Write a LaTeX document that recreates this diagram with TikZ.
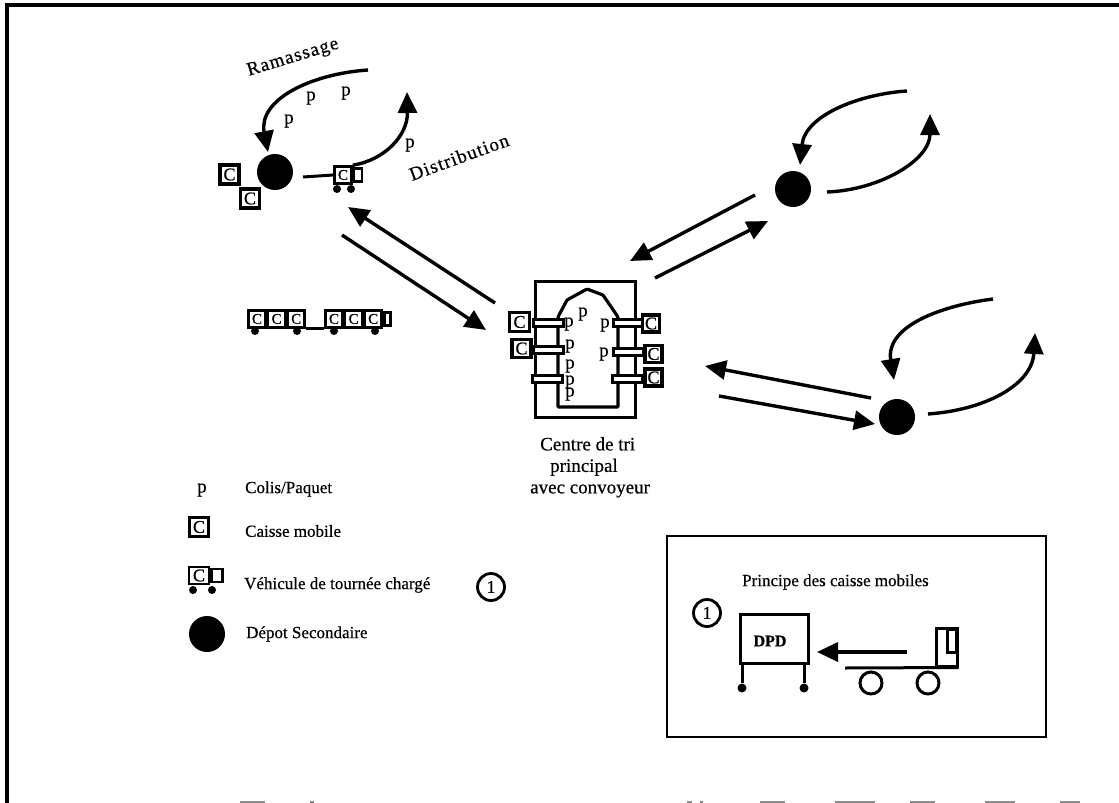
\documentclass[tikz,border=0pt]{standalone}
\usepackage{fontspec}
\setmainfont[FakeBold=0.5]{Liberation Serif}
\usetikzlibrary{arrows.meta, positioning}

\begin{document}
\begin{tikzpicture}[
  x=1pt, y=-1pt,
  depot/.style={circle, fill=black, inner sep=0pt, minimum size=36pt},
  cbox/.style={draw, line width=3.2pt, fill=white, inner sep=0pt, minimum width=19pt, minimum height=19pt, font=\fontsize{18}{18}\selectfont},
  tinybox/.style={draw, line width=2.6pt, fill=white, inner sep=0pt, minimum width=17pt, minimum height=17pt, font=\fontsize{15}{15}\selectfont},
  cabbox/.style={draw, line width=2.6pt, fill=white, inner sep=0pt, minimum width=8pt, minimum height=13pt},
  beltbox/.style={draw, line width=3pt, fill=white, inner sep=0pt, minimum width=30pt, minimum height=7pt},
  wheeldot/.style={circle, fill=black, inner sep=0pt, minimum size=8pt},
  ptext/.style={inner sep=0pt, font=\fontsize{19}{19}\selectfont},
  legtext/.style={anchor=west, inner sep=0pt, font=\fontsize{17}{17}\selectfont},
  numcircle/.style={circle, draw, line width=2.8pt, inner sep=0pt, minimum size=27pt, font=\fontsize{18}{18}\selectfont},
  slanttext/.style={inner sep=0pt, font=\fontsize{19}{19}\selectfont\addfontfeature{LetterSpace=6}},
  flowline/.style={-{Triangle[length=21pt,width=19pt]}, line width=3.4pt},
  thinline/.style={line width=3pt}
]
\useasboundingbox (0,0) rectangle (1119,803);
\draw[line width=3.4pt] (1119,5) -- (7,5) -- (7,803);
\foreach \xa/\xb in {240/265, 310/314, 687/692, 700/703, 760/785, 835/875, 910/935, 985/1015, 1060/1080}
  \fill[black!45] (\xa,801) rectangle (\xb,803);

\node[depot] (depa) at (275,172) {};
\node[depot] (depb) at (793,189) {};
\node[depot] (depc) at (897,417) {};

\node[cbox] (ca) at (229.5,174.5) {C};
\node[cbox] (cb) at (250,198.5) {C};
\node[wheeldot] (vanwa) at (337,189) {};
\node[wheeldot] (vanwb) at (351,189) {};
\node[tinybox] (vana) at (343,175) {C};
\node[cabbox, right=0pt of vana] (vanb) {};

\node[rotate=17, slanttext] (ram) at (293,58) {Ramassage};
\node[rotate=20, slanttext] (dist) at (459,157) {Distribution};
\node[ptext] (pa) at (289,121) {p};
\node[ptext] (pb) at (311,98) {p};
\node[ptext] (pc) at (346,93) {p};
\node[ptext] (pd) at (410,145) {p};

\coordinate (ramA) at (368,70);
\coordinate (ramB) at (268,152);
\coordinate (disA) at (303,177);
\coordinate (disB) at (407,92);
\draw[flowline] (ramA) .. controls (310,74) and (258,100) .. (ramB);
\draw[thinline] (disA) -- (vana.west);
\draw[flowline] (vana.north east) .. controls (385,160) and (408,135) .. (disB);

\coordinate (topA) at (907,91);
\coordinate (topB) at (800,165);
\coordinate (topC) at (827,192);
\coordinate (topD) at (930,114);
\draw[flowline] (topA) .. controls (860,94) and (805,115) .. (topB);
\draw[flowline] (topC) .. controls (880,190) and (930,160) .. (topD);

\coordinate (lowA) at (993,299);
\coordinate (lowB) at (894,380);
\coordinate (lowC) at (928,414);
\coordinate (lowD) at (1035,333);
\draw[flowline] (lowA) .. controls (945,305) and (885,325) .. (lowB);
\draw[flowline] (lowC) .. controls (985,410) and (1032,385) .. (lowD);

\coordinate (arrA) at (495,303);
\coordinate (arrB) at (348,207);
\coordinate (arrC) at (342,235);
\coordinate (arrD) at (486,330);
\draw[flowline] (arrA) -- (arrB);
\draw[flowline] (arrC) -- (arrD);
\coordinate (arrE) at (755,195);
\coordinate (arrF) at (630,261);
\coordinate (arrG) at (655,278);
\coordinate (arrH) at (768,221);
\draw[flowline] (arrE) -- (arrF);
\draw[flowline] (arrG) -- (arrH);
\coordinate (arrI) at (871,398);
\coordinate (arrJ) at (705,366);
\coordinate (arrK) at (719,396);
\coordinate (arrL) at (875,424);
\draw[flowline] (arrI) -- (arrJ);
\draw[flowline] (arrK) -- (arrL);

\node[draw, line width=3pt, inner sep=0pt, minimum width=100pt, minimum height=136pt] (centre) at (585,349) {};
\coordinate (hallA) at (558,407);
\coordinate (hallB) at (618,407);
\draw[line width=3.2pt, rounded corners=1pt] (hallA) -- (558,317) -- (567,300) -- (587,289) -- (603,295) -- (618,317) -- (hallB) -- cycle;

\node[beltbox] (bla) at (548,323) {};
\node[beltbox] (blb) at (548,350) {};
\node[beltbox] (blc) at (547,379) {};
\node[beltbox] (bra) at (628,323) {};
\node[beltbox] (brb) at (628,352) {};
\node[beltbox] (brc) at (627,379) {};
\node[cbox, minimum width=20pt] (cla) at (519.5,322) {C};
\node[cbox, minimum height=18pt] (clb) at (521.5,348.5) {C};
\node[cbox, minimum width=17pt, minimum height=17pt] (cra) at (651,323.5) {C};
\node[cbox, minimum width=17pt, minimum height=17pt] (crb) at (653.5,354) {C};
\node[cbox, minimum width=17pt, minimum height=17pt] (crc) at (653.5,377.5) {C};

\node[ptext] (pe) at (569,324) {p};
\node[ptext] (pf) at (583,314) {p};
\node[ptext] (pg) at (605,325) {p};
\node[ptext] (ph) at (570,346) {p};
\node[ptext] (pi) at (604,354) {p};
\node[ptext] (pj) at (570,366) {p};
\node[ptext] (pk) at (570,382) {p};
\node[ptext] (pl) at (570,394) {p};

\node[align=left, anchor=north west, inner sep=0pt, font=\fontsize{19}{21.5}\selectfont] (centrelab) at (530,437) {\hspace*{10pt}Centre de tri\\\hspace*{20pt}principal\\avec convoyeur};

\node[wheeldot] (twa) at (255,331) {};
\node[wheeldot] (twb) at (297,331) {};
\node[wheeldot] (twc) at (334,331) {};
\node[wheeldot] (twd) at (375,331) {};
\node[tinybox] (tra) at (257,319) {C};
\node[tinybox, right=0pt of tra] (trb) {C};
\node[tinybox, right=0pt of trb] (trc) {C};
\node[tinybox] (trd) at (334,319) {C};
\node[tinybox, right=0pt of trd] (tre) {C};
\node[tinybox, right=0pt of tre] (trf) {C};
\node[cabbox, right=0pt of trf, minimum width=6pt] (trg) {};
\draw[thinline] (trc.south east) -- (trd.south west);

\node[ptext] (legp) at (202,490) {p};
\node[legtext] (legpt) at (245,489) {Colis/Paquet};
\node[cbox] (legc) at (199,527) {C};
\node[legtext] (legct) at (245,531) {Caisse mobile};
\node[wheeldot] (legwa) at (193,590) {};
\node[wheeldot] (legwb) at (212,590) {};
\node[tinybox, minimum width=20pt, font=\fontsize{18}{18}\selectfont] (legv) at (199,575.5) {C};
\node[cabbox, right=0pt of legv, minimum width=11pt] (legw) {};
\node[legtext] (legvt) at (244,585) {Véhicule de tournée chargé};
\node[numcircle] (numa) at (491,587) {1};
\node[depot] (legd) at (207,634) {};
\node[legtext] (legdt) at (246,634) {Dépot Secondaire};

\node[draw, line width=2.4pt, inner sep=0pt, minimum width=379pt, minimum height=201pt] (inset) at (856.5,636.5) {};
\node[legtext] (insett) at (742,582) {Principe des caisse mobiles};
\node[numcircle] (numb) at (707,613) {1};
\node[draw, line width=3pt, inner sep=0pt, minimum width=68pt, minimum height=49pt] (dpd) at (774,638.5) {};
\node[inner sep=0pt, font=\fontsize{16}{16}\selectfont\bfseries] (dpdt) at (770,641) {DPD};
\node[wheeldot, minimum size=9pt] (lega) at (742,688) {};
\node[wheeldot, minimum size=9pt] (legb) at (804,688) {};
\draw[thinline] (dpd.south west -| lega) -- (lega);
\draw[thinline] (dpd.south west -| legb) -- (legb);
\coordinate (pushA) at (907,652);
\coordinate (pushB) at (817,652);
\draw[flowline] (pushA) -- (pushB);
\node[draw, line width=3pt, inner sep=0pt, minimum width=21pt, minimum height=38pt] (cab) at (946.5,647) {};
\node[draw, line width=2.6pt, inner sep=0pt, minimum width=9pt, minimum height=23pt] (cabw) at (952,641) {};
\coordinate (bedA) at (845,668);
\draw[thinline] (bedA) -- (cab.south east);
\node[circle, draw, line width=3pt, inner sep=0pt, minimum size=22pt] (wha) at (871,683) {};
\node[circle, draw, line width=3pt, inner sep=0pt, minimum size=22pt] (whb) at (928,683) {};
\end{tikzpicture}
\end{document}
